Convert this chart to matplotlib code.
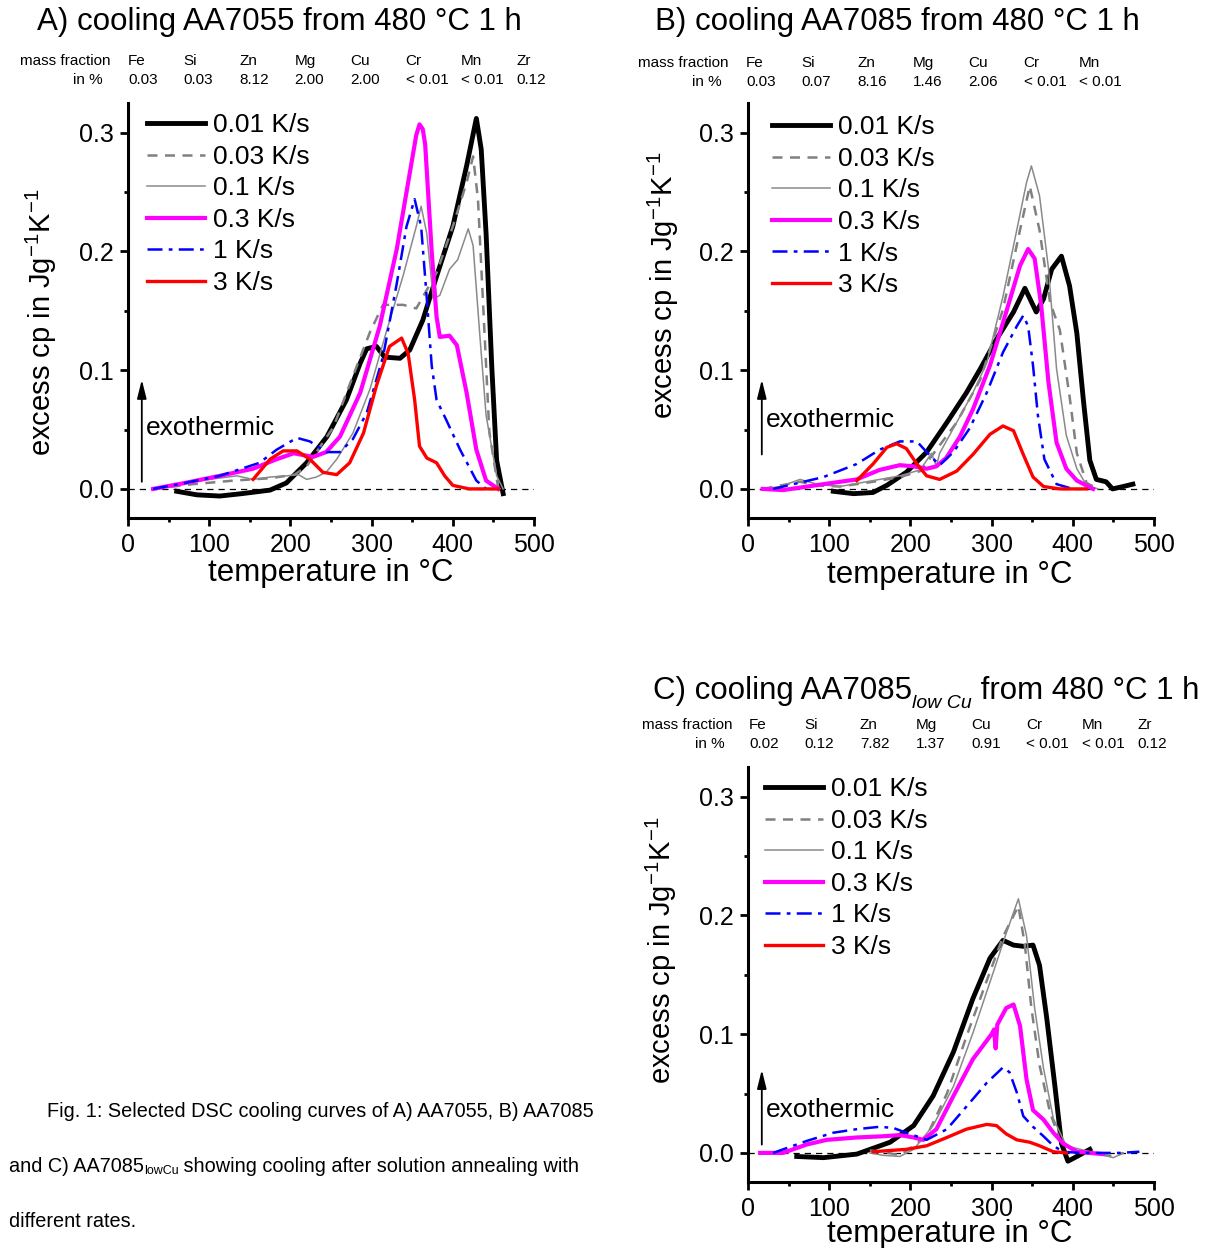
import matplotlib
matplotlib.use('Agg')
import matplotlib.pyplot as plt
from matplotlib.ticker import FixedLocator, FormatStrFormatter

plt.rcParams['font.family'] = ['Liberation Sans', 'DejaVu Sans']
plt.rcParams['mathtext.fontset'] = 'custom'
plt.rcParams['mathtext.rm'] = 'Liberation Sans'
plt.rcParams['mathtext.it'] = 'Liberation Sans:italic'

W, H = 1211, 1248

rates = ['0.01 K/s', '0.03 K/s', '0.1 K/s', '0.3 K/s', '1 K/s', '3 K/s']

# ---- A) AA7055 ----
A_T_001 = [60, 85, 113, 140, 175, 195, 220, 245, 269, 286, 294, 306, 316, 335, 347, 363, 380, 400, 417, 429, 435, 441, 448, 454, 462]
A_cp_001 = [-0.002, -0.005, -0.006, -0.004, -0.001, 0.005, 0.022, 0.044, 0.075, 0.106, 0.118, 0.120, 0.111, 0.110, 0.117,
            0.142, 0.179, 0.221, 0.272, 0.312, 0.286, 0.215, 0.103, 0.024, -0.004]
A_T_003 = [31, 80, 130, 175, 205, 220, 253, 277, 298, 314, 339, 355, 380, 400, 417, 425, 431, 437, 445, 456]
A_cp_003 = [0.0, 0.004, 0.007, 0.009, 0.012, 0.019, 0.052, 0.095, 0.132, 0.155, 0.155, 0.152, 0.182, 0.221, 0.258,
            0.280, 0.244, 0.160, 0.048, 0.0]
A_T_01 = [31, 60, 100, 134, 154, 175, 195, 210, 220, 232, 244, 257, 277, 298, 318, 339, 355, 361, 368, 376, 384, 396,
          406, 412, 419, 425, 433, 441, 454, 462]
A_cp_01 = [0.0, 0.004, 0.008, 0.011, 0.008, 0.010, 0.011, 0.012, 0.008, 0.010, 0.014, 0.025, 0.047, 0.084, 0.132, 0.180,
           0.221, 0.238, 0.215, 0.160, 0.163, 0.185, 0.193, 0.205, 0.219, 0.205, 0.132, 0.062, 0.011, 0.0]
A_T_03 = [31, 70, 113, 154, 183, 204, 228, 244, 261, 286, 310, 331, 347, 355, 359, 363, 366, 374, 380, 384, 396, 405, 417,
          429, 441, 456]
A_cp_03 = [0.0, 0.005, 0.011, 0.017, 0.025, 0.030, 0.027, 0.031, 0.044, 0.081, 0.137, 0.202, 0.266, 0.298, 0.307, 0.303,
           0.290, 0.200, 0.145, 0.128, 0.129, 0.121, 0.081, 0.033, 0.007, 0.0]
A_T_1 = [31, 70, 113, 162, 183, 208, 224, 244, 261, 277, 294, 314, 331, 343, 353, 361, 368, 374, 380, 392, 409, 429, 441]
A_cp_1 = [0.0, 0.005, 0.011, 0.022, 0.033, 0.043, 0.040, 0.031, 0.031, 0.042, 0.064, 0.111, 0.173, 0.221, 0.244, 0.221,
          0.160, 0.104, 0.075, 0.058, 0.033, 0.007, 0.0]
A_T_3 = [154, 175, 191, 208, 224, 240, 257, 273, 290, 306, 322, 337, 345, 353, 359, 368, 380, 390, 400, 420, 456]
A_cp_3 = [0.008, 0.025, 0.032, 0.032, 0.025, 0.014, 0.012, 0.022, 0.047, 0.087, 0.120, 0.127, 0.114, 0.075, 0.036,
          0.026, 0.022, 0.011, 0.003, 0.0, 0.0]

# ---- B) AA7085 ----
B_T_001 = [105, 130, 154, 171, 195, 220, 245, 269, 286, 306, 327, 341, 355, 364, 374, 386, 396, 405, 413, 421, 429, 441,
           449, 462, 474]
B_cp_001 = [-0.002, -0.004, -0.003, 0.003, 0.014, 0.031, 0.056, 0.081, 0.101, 0.126, 0.149, 0.169, 0.149, 0.160, 0.185,
            0.196, 0.171, 0.131, 0.075, 0.024, 0.008, 0.006, 0.0, 0.002, 0.004]
B_T_003 = [18, 64, 85, 113, 154, 187, 212, 220, 257, 286, 314, 335, 347, 359, 372, 384, 396, 405, 417, 431]
B_cp_003 = [0.0, 0.006, 0.003, 0.002, 0.006, 0.010, 0.015, 0.022, 0.056, 0.092, 0.151, 0.218, 0.255, 0.218, 0.157,
            0.134, 0.078, 0.030, 0.005, 0.0]
B_T_01 = [18, 40, 64, 85, 113, 154, 187, 212, 226, 232, 236, 257, 277, 294, 314, 331, 343, 349, 359, 370, 380, 392, 405,
          417, 431]
B_cp_01 = [0.0, 0.002, 0.008, 0.004, 0.002, 0.007, 0.011, 0.016, 0.030, 0.019, 0.030, 0.056, 0.081, 0.106, 0.162, 0.218,
           0.258, 0.272, 0.247, 0.186, 0.101, 0.045, 0.017, 0.003, 0.0]
B_T_03 = [18, 43, 93, 134, 162, 187, 204, 220, 232, 244, 261, 277, 298, 318, 335, 345, 353, 361, 370, 380, 392, 405, 425]
B_cp_03 = [0.0, -0.001, 0.004, 0.008, 0.016, 0.020, 0.019, 0.017, 0.019, 0.026, 0.044, 0.067, 0.104, 0.149, 0.188, 0.202,
           0.194, 0.155, 0.090, 0.039, 0.017, 0.007, 0.0]
B_T_1 = [31, 93, 134, 162, 187, 208, 220, 236, 253, 273, 294, 314, 331, 339, 345, 351, 357, 365, 380, 400]
B_cp_1 = [0.0, 0.010, 0.021, 0.033, 0.040, 0.040, 0.031, 0.020, 0.031, 0.051, 0.081, 0.115, 0.137, 0.146, 0.137, 0.104,
          0.062, 0.025, 0.004, 0.0]
B_T_3 = [134, 154, 171, 183, 195, 208, 220, 236, 257, 277, 298, 314, 327, 339, 351, 364, 384, 417]
B_cp_3 = [0.007, 0.021, 0.035, 0.038, 0.034, 0.021, 0.011, 0.008, 0.015, 0.029, 0.046, 0.053, 0.049, 0.029, 0.010,
          0.002, 0.0, 0.0]

# ---- C) AA7085 low Cu ----
C_T_001 = [60, 93, 134, 175, 204, 228, 253, 277, 298, 314, 327, 339, 351, 359, 368, 378, 386, 394, 405, 421]
C_cp_001 = [-0.003, -0.004, -0.001, 0.009, 0.023, 0.048, 0.085, 0.130, 0.164, 0.179, 0.175, 0.174, 0.175, 0.158, 0.113,
            0.056, 0.008, -0.007, -0.003, 0.003]
C_T_003 = [150, 166, 187, 204, 220, 245, 269, 294, 314, 333, 341, 349, 359, 372, 384, 400, 425, 450, 462]
C_cp_003 = [0.002, 0.001, -0.002, 0.006, 0.014, 0.050, 0.098, 0.145, 0.182, 0.208, 0.175, 0.122, 0.074, 0.034, 0.011,
            0.003, 0.0, -0.003, 0.0]
C_T_01 = [150, 166, 187, 204, 228, 253, 277, 302, 318, 333, 343, 353, 364, 376, 392, 421, 450, 462]
C_cp_01 = [0.0, -0.002, -0.003, 0.003, 0.023, 0.056, 0.101, 0.152, 0.185, 0.214, 0.183, 0.122, 0.071, 0.029, 0.006,
           0.001, -0.004, 0.0]
C_T_03 = [15, 43, 72, 97, 134, 166, 187, 204, 216, 232, 253, 277, 300, 303, 305, 307, 318, 327, 335, 343, 351, 364, 376,
          388, 405, 437]
C_cp_03 = [0.0, 0.0, 0.007, 0.011, 0.013, 0.014, 0.015, 0.013, 0.011, 0.020, 0.048, 0.079, 0.100, 0.104, 0.088, 0.108,
           0.122, 0.125, 0.107, 0.062, 0.036, 0.028, 0.017, 0.008, 0.001, -0.001]
C_T_1 = [31, 72, 105, 134, 162, 179, 195, 220, 245, 269, 294, 314, 322, 331, 339, 351, 364, 376, 388, 409, 458, 482]
C_cp_1 = [0.0, 0.010, 0.017, 0.020, 0.022, 0.021, 0.017, 0.011, 0.020, 0.039, 0.059, 0.072, 0.068, 0.051, 0.031, 0.022,
          0.014, 0.006, 0.001, 0.0, 0.0, 0.001]
C_T_3 = [154, 195, 220, 245, 269, 294, 306, 318, 331, 347, 359, 376, 392]
C_cp_3 = [0.001, 0.003, 0.006, 0.013, 0.020, 0.024, 0.023, 0.016, 0.011, 0.009, 0.006, 0.001, 0.0]

# composition tables
elements_A = ['Fe', 'Si', 'Zn', 'Mg', 'Cu', 'Cr', 'Mn', 'Zr']
mass_A = ['0.03', '0.03', '8.12', '2.00', '2.00', '< 0.01', '< 0.01', '0.12']
elements_B = ['Fe', 'Si', 'Zn', 'Mg', 'Cu', 'Cr', 'Mn']
mass_B = ['0.03', '0.07', '8.16', '1.46', '2.06', '< 0.01', '< 0.01']
elements_C = ['Fe', 'Si', 'Zn', 'Mg', 'Cu', 'Cr', 'Mn', 'Zr']
mass_C = ['0.02', '0.12', '7.82', '1.37', '0.91', '< 0.01', '< 0.01', '0.12']

styles = [
    dict(color='black', lw=3.5, ls='-'),
    dict(color='#808080', lw=1.8, ls=(0, (4, 3))),
    dict(color='#8a8a8a', lw=1.1, ls='-'),
    dict(color='#ff00ff', lw=3.0, ls='-'),
    dict(color='#0000ff', lw=1.8, ls=(0, (6, 2.5, 1.5, 2.5))),
    dict(color='#ff0000', lw=2.4, ls='-'),
]

fig = plt.figure(figsize=(W / 100, H / 100), dpi=100)


def px_axes(left, top):
    return fig.add_axes([left / W, 1 - (top + 415) / H, 406 / W, 415 / H])


def setup(ax):
    ax.set_xlim(0, 500)
    ax.set_ylim(-0.0245, 0.325)
    for s in ['top', 'right']:
        ax.spines[s].set_visible(False)
    for s in ['left', 'bottom']:
        ax.spines[s].set_linewidth(2.2)
    ax.xaxis.set_major_locator(FixedLocator([0, 100, 200, 300, 400, 500]))
    ax.xaxis.set_minor_locator(FixedLocator([50, 150, 250, 350, 450]))
    ax.yaxis.set_major_locator(FixedLocator([0.0, 0.1, 0.2, 0.3]))
    ax.yaxis.set_minor_locator(FixedLocator([0.05, 0.15, 0.25]))
    ax.yaxis.set_major_formatter(FormatStrFormatter('%.1f'))
    ax.tick_params(which='major', direction='out', length=5.5, width=2.0, labelsize=18, pad=5)
    ax.tick_params(axis='x', which='major', pad=5)
    ax.tick_params(which='minor', direction='out', length=3, width=2.0)
    ax.axhline(0, color='black', lw=0.9, ls=(0, (5, 4)), zorder=1)


def draw_panel(ax, Ts, cps, leg_xy, exo_cp0, exo_cp1, exo_text_cp):
    setup(ax)
    handles = []
    for T, cp, st, lab in zip(Ts, cps, styles, rates):
        ln, = ax.plot(T, cp, color=st['color'], lw=st['lw'], ls=st['ls'], label=lab,
                      solid_joinstyle='round', zorder=3)
        handles.append(ln)
    ax.legend(handles=handles, loc='upper left', bbox_to_anchor=leg_xy, frameon=False,
              fontsize=19, handlelength=2.2, handletextpad=0.3, labelspacing=0.285,
              borderpad=0, borderaxespad=0)
    ax.annotate('', xy=(17, exo_cp1), xytext=(17, exo_cp0),
                arrowprops=dict(arrowstyle='-|>,head_length=0.8,head_width=0.2', color='black',
                                lw=1.3, mutation_scale=14, shrinkA=0, shrinkB=0))
    ax.text(22, exo_text_cp, 'exothermic', fontsize=19, va='center', ha='left')


def ftext(x, y, s, **kw):
    return fig.text(x / W, 1 - y / H, s, **kw)


def pieces(x, y, parts):
    # parts: (text, fontsize, style, dy) drawn one after the other on baseline y
    r = fig.canvas.get_renderer()
    for s, fs, style, dy in parts:
        t = ftext(x, y + dy, s, fontsize=fs, style=style, va='baseline', ha='left')
        x += t.get_window_extent(r).width


def table(x_lab, y1, y2, xs, elems, vals):
    ftext(x_lab, y1, 'mass fraction', fontsize=11, ha='right', va='center')
    ftext(x_lab - 7, y2, 'in %', fontsize=11, ha='right', va='center')
    for x, e, v in zip(xs, elems, vals):
        ftext(x, y1, e, fontsize=11, ha='left', va='center')
        ftext(x, y2, v, fontsize=11, ha='left', va='center')


ylab = r'excess cp in Jg$^{-1}$K$^{-1}$'

axA = px_axes(128, 103)
draw_panel(axA, [A_T_001, A_T_003, A_T_01, A_T_03, A_T_1, A_T_3],
           [A_cp_001, A_cp_003, A_cp_01, A_cp_03, A_cp_1, A_cp_3], (0.047, 0.975), 0.006, 0.092, 0.051)
axB = px_axes(748, 103)
draw_panel(axB, [B_T_001, B_T_003, B_T_01, B_T_03, B_T_1, B_T_3],
           [B_cp_001, B_cp_003, B_cp_01, B_cp_03, B_cp_1, B_cp_3], (0.059, 0.970), 0.029, 0.092, 0.058)
axC = px_axes(748, 767)
draw_panel(axC, [C_T_001, C_T_003, C_T_01, C_T_03, C_T_1, C_T_3],
           [C_cp_001, C_cp_003, C_cp_01, C_cp_03, C_cp_1, C_cp_3], (0.042, 0.975), 0.007, 0.070, 0.036)

# axis labels
ftext(41, 322, ylab, fontsize=21, rotation=90, ha='center', va='center')
ftext(663, 285, ylab, fontsize=21, rotation=90, ha='center', va='center')
ftext(661, 950, ylab, fontsize=21, rotation=90, ha='center', va='center')
ftext(331, 573, 'temperature in °C', fontsize=22.5, ha='center', va='center')
ftext(950, 575, 'temperature in °C', fontsize=22.5, ha='center', va='center')
ftext(950, 1234, 'temperature in °C', fontsize=22.5, ha='center', va='center')

# titles
ftext(37, 22, 'A) cooling AA7055 from 480 °C 1 h', fontsize=22.5, ha='left', va='center')
ftext(655, 22, 'B) cooling AA7085 from 480 °C 1 h', fontsize=22.5, ha='left', va='center')
pieces(653, 699, [('C) cooling AA7085', 22.5, 'normal', 0),
                  ('low Cu', 14, 'italic', 9),
                  (' from 480 °C 1 h', 22.5, 'normal', 0)])

# composition tables
col = [0, 55.5, 111, 166.5, 222, 277.5, 333, 388.5]
table(110, 61, 80, [128 + c for c in col], elements_A, mass_A)
table(729, 63, 82, [746 + c for c in col], elements_B, mass_B)
table(732, 725, 744, [749 + c for c in col], elements_C, mass_C)

# caption
ftext(47, 1117, 'Fig. 1: Selected DSC cooling curves of A) AA7055, B) AA7085', fontsize=14.3,
      ha='left', va='baseline')
pieces(9, 1172, [('and C) AA7085', 14.3, 'normal', 0),
                 ('lowCu', 9, 'normal', 2),
                 (' showing cooling after solution annealing with', 14.3, 'normal', 0)])
ftext(9, 1227, 'different rates.', fontsize=14.3, ha='left', va='baseline')

fig.savefig('out.png', dpi=100)
